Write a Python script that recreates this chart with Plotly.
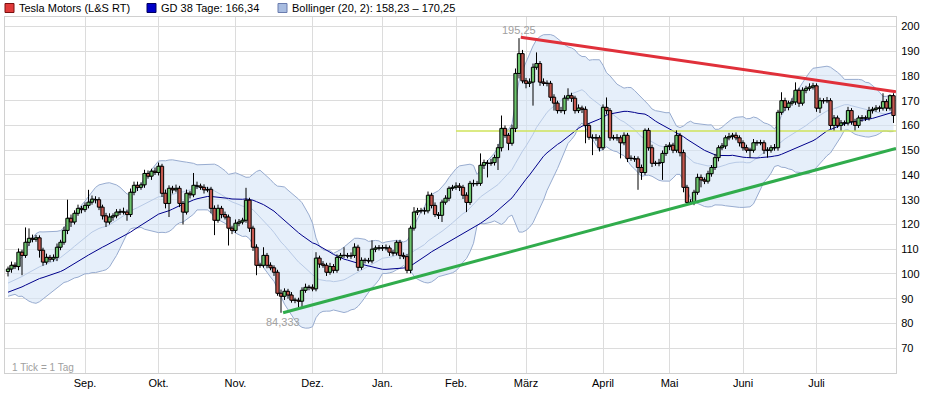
import pandas as pd
import plotly.graph_objects as go

# ---------------- data (trading-day index 0..253, Aug 2013 - Jul 2014) ----------------
close = [
    102.0, 103.5, 103.0, 108.8, 107.5, 112.8, 114.4, 114.0, 114.6, 109.6,
    104.8, 106.7, 106.0, 106.7, 110.8, 112.8, 117.6, 122.5, 121.0, 124.5,
    126.5, 126.0, 127.7, 129.0, 130.2, 130.0, 127.0, 123.5, 121.0, 123.0,
    123.5, 125.0, 125.3, 125.0, 124.0, 133.0, 135.8, 135.0, 136.0, 140.6,
    139.5, 141.5, 141.0, 143.5, 132.6, 128.5, 134.6, 134.0, 134.6, 128.5,
    125.0, 132.6, 132.0, 135.8, 135.5, 135.0, 134.0, 134.2, 126.5, 121.7,
    126.5, 124.0, 123.0, 118.5, 117.6, 120.5, 121.0, 121.7, 129.8, 118.5,
    110.8, 103.5, 103.5, 107.5, 103.5, 102.5, 100.7, 92.2, 91.0, 93.0,
    91.5, 89.4, 89.4, 89.0, 93.4, 94.6, 94.6, 94.0, 106.4, 104.0,
    103.5, 100.7, 103.0, 101.5, 106.7, 107.5, 107.5, 107.3, 107.5, 110.8,
    102.7, 105.5, 105.5, 105.3, 110.0, 110.5, 110.5, 110.7, 110.5, 108.8,
    108.5, 112.8, 107.5, 107.0, 101.5, 118.5, 125.0, 125.5, 125.7, 125.5,
    131.8, 127.7, 124.0, 123.7, 129.0, 130.6, 134.6, 135.0, 135.5, 135.0,
    131.8, 128.9, 136.6, 136.5, 136.6, 143.9, 145.0, 144.7, 145.0, 147.0,
    151.0, 158.8, 156.0, 152.8, 158.8, 181.0, 189.0, 178.0, 177.0, 177.5,
    183.5, 185.0, 177.5, 177.0, 177.0, 171.4, 169.0, 166.0, 166.0, 171.0,
    172.0, 171.0, 166.0, 167.0, 166.5, 160.0, 155.2, 155.0, 155.0, 151.0,
    167.3, 166.0, 155.0, 155.0, 155.0, 153.0, 156.0, 146.7, 146.7, 146.5,
    143.0, 141.0, 158.0, 151.0, 144.7, 144.7, 145.0, 148.7, 151.5, 152.0,
    150.0, 156.0, 149.0, 135.0, 128.9, 129.0, 133.0, 139.0, 138.0, 137.5,
    140.5, 143.0, 147.0, 151.0, 151.7, 155.0, 155.5, 156.0, 155.0, 153.0,
    151.0, 150.0, 150.0, 153.0, 153.0, 153.0, 150.0, 150.0, 151.0, 151.0,
    165.3, 170.0, 167.3, 169.0, 169.5, 174.2, 169.0, 174.2, 175.0, 175.5,
    176.0, 167.0, 170.0, 170.0, 170.0, 160.0, 163.0, 160.0, 161.0, 161.0,
    166.0, 161.5, 160.0, 163.0, 163.0, 163.0, 166.0, 166.5, 167.0, 167.0,
    169.6, 167.0, 172.0, 164.0,
]
wick_up = [
    1.0, 1.5, 1.2, 1.5, 1.0, 6.0, 4.0, 1.5, 1.2, 1.0,
    1.0, 1.5, 1.0, 1.2, 1.5, 1.0, 1.5, 7.5, 1.5, 1.2,
    1.5, 1.0, 1.2, 5.0, 1.5, 1.2, 1.0, 1.0, 1.2, 1.5,
    1.0, 1.2, 1.0, 1.5, 1.0, 1.5, 1.5, 1.5, 1.0, 1.5,
    1.2, 1.0, 1.5, 1.5, 1.0, 1.5, 1.2, 1.0, 1.5, 1.0,
    1.0, 1.5, 1.0, 5.0, 1.5, 1.0, 1.2, 1.0, 1.0, 1.2,
    1.5, 1.0, 1.2, 1.0, 1.0, 1.5, 1.2, 1.0, 5.0, 1.0,
    1.0, 1.2, 1.0, 3.3, 1.0, 1.2, 1.0, 1.0, 1.5, 1.2,
    1.0, 1.2, 1.0, 1.0, 1.2, 1.5, 1.0, 1.2, 2.4, 1.0,
    1.2, 1.0, 1.5, 1.0, 1.2, 1.0, 3.3, 1.0, 1.2, 1.6,
    1.0, 1.2, 1.0, 1.0, 3.6, 1.0, 1.2, 1.0, 1.2, 1.0,
    1.0, 0.8, 1.0, 1.2, 1.0, 1.0, 2.0, 1.2, 1.0, 1.2,
    1.5, 1.0, 1.2, 1.0, 1.0, 1.2, 0.8, 1.0, 1.5, 1.2,
    1.0, 1.2, 1.0, 1.5, 1.0, 4.8, 1.2, 1.0, 1.5, 1.2,
    1.5, 5.2, 1.2, 1.0, 1.5, 2.0, 6.25, 1.5, 1.2, 1.5,
    1.5, 4.5, 1.0, 1.5, 1.2, 1.0, 1.2, 1.0, 1.5, 1.2,
    3.0, 1.2, 1.0, 1.5, 1.0, 1.2, 1.0, 1.2, 1.5, 1.0,
    1.2, 4.0, 1.0, 1.2, 1.5, 1.0, 1.2, 1.0, 1.2, 1.0,
    1.0, 1.2, 0.8, 1.0, 1.2, 1.0, 1.5, 1.2, 1.0, 1.2,
    1.0, 2.0, 1.0, 1.2, 1.0, 1.2, 1.0, 1.5, 1.2, 1.0,
    1.2, 1.0, 1.5, 1.0, 1.2, 1.0, 1.5, 1.0, 1.2, 1.0,
    1.0, 1.2, 1.0, 1.5, 1.0, 1.2, 1.0, 1.2, 1.0, 1.5,
    1.0, 3.4, 1.2, 1.0, 1.5, 3.2, 1.0, 1.2, 1.0, 1.5,
    1.2, 1.0, 1.2, 1.0, 1.5, 1.0, 1.2, 1.0, 1.2, 1.0,
    1.5, 1.0, 1.2, 1.0, 1.2, 1.0, 1.5, 1.0, 1.2, 1.0,
    3.4, 1.0, 0.5, 1.0,
]
wick_dn = [
    2.0, 1.5, 1.0, 1.5, 8.0, 1.0, 1.5, 1.2, 1.0, 3.0,
    1.5, 1.0, 1.2, 1.0, 1.5, 1.2, 1.0, 1.5, 2.0, 1.0,
    1.0, 1.5, 1.0, 1.2, 1.0, 1.5, 1.2, 1.5, 2.0, 1.0,
    1.5, 1.0, 1.2, 1.0, 2.5, 1.0, 1.2, 1.5, 1.0, 1.2,
    1.0, 1.5, 1.0, 1.2, 1.5, 2.0, 5.5, 1.5, 1.0, 1.5,
    5.0, 1.0, 1.5, 1.0, 1.2, 1.0, 1.5, 1.0, 2.0, 6.0,
    1.0, 1.5, 1.0, 7.0, 1.5, 1.0, 1.2, 1.0, 1.0, 1.5,
    1.5, 4.0, 1.0, 1.0, 1.2, 1.0, 1.5, 1.0, 6.67, 1.5,
    1.5, 1.0, 1.2, 2.5, 2.3, 1.0, 1.2, 1.0, 1.0, 1.5,
    1.0, 1.5, 1.0, 1.2, 1.0, 1.2, 1.0, 1.0, 1.2, 1.0,
    1.5, 1.0, 1.2, 1.0, 1.0, 1.2, 1.0, 1.2, 1.0, 1.5,
    1.2, 1.0, 1.5, 1.0, 1.2, 1.2, 1.0, 1.2, 1.0, 1.5,
    1.0, 1.2, 1.0, 1.5, 2.7, 1.0, 1.2, 1.0, 1.0, 1.5,
    1.5, 3.9, 1.0, 1.2, 1.0, 1.0, 1.5, 5.7, 1.0, 1.2,
    5.0, 1.5, 1.0, 2.8, 1.0, 1.5, 2.0, 1.0, 2.0, 1.5,
    9.5, 1.0, 1.5, 1.0, 1.2, 1.5, 3.0, 1.2, 1.0, 1.5,
    1.0, 1.5, 1.2, 1.0, 1.5, 7.2, 1.0, 7.0, 1.2, 1.5,
    1.0, 1.5, 1.2, 1.0, 1.2, 6.3, 1.0, 1.5, 1.0, 1.2,
    9.0, 3.0, 1.0, 1.2, 1.5, 1.0, 1.2, 7.0, 1.0, 1.5,
    1.2, 1.0, 1.5, 2.0, 0.4, 1.0, 1.2, 1.0, 3.0, 1.2,
    1.0, 1.2, 1.0, 1.5, 1.0, 1.2, 1.0, 1.2, 1.0, 1.5,
    1.2, 1.0, 3.0, 1.0, 1.2, 1.0, 1.5, 3.0, 1.0, 1.2,
    1.2, 1.0, 1.5, 1.2, 1.0, 1.2, 1.5, 1.0, 1.2, 1.0,
    1.0, 1.5, 2.0, 1.2, 1.0, 1.5, 2.0, 1.0, 2.0, 1.2,
    1.0, 1.2, 2.0, 1.0, 1.5, 1.2, 1.0, 1.2, 1.0, 1.5,
    1.0, 1.2, 1.0, 3.0,
]
# closes of the days before the visible window (feed the indicators)
pre_close = [
    84.5, 85.5, 86.0, 85.0, 86.5, 87.5, 88.0, 87.0, 88.5, 89.0,
    90.0, 89.5, 90.5, 91.0, 90.0, 91.5, 92.0, 91.5,
    91.0, 92.0, 94.0, 93.0, 96.0, 97.5, 99.0, 98.0, 96.0, 94.0,
    95.0, 96.5, 95.0, 97.0, 96.0, 97.5, 98.0, 99.0, 100.0,
]

month_pos = [22, 43, 65, 87, 107, 128, 148, 170, 189, 210, 231]
month_labels = ["Sep.", "Okt.", "Nov.", "Dez.", "Jan.", "Feb.", "März", "April", "Mai", "Juni", "Juli"]
y_ticks = list(range(70, 201, 10))

high_mark = (146, 195.25, "195,25")
low_mark = (78, 84.333, "84,333")
resistance_x = [146.5, 253.7]
resistance_y = [195.6, 173.6]
support_x = [78.6, 253.7]
support_y = [84.33, 150.7]
level_x = [128, 253.7]
level_y = [157.8, 157.8]

legend_items = [
    ("Tesla Motors (L&S RT)", "#e03a3a", "#7a1010"),
    ("GD 38 Tage: 166,34", "#0000c8", "#000060"),
    ("Bollinger (20, 2): 158,23 \u2013 170,25", "#a8bce0", "#6a7cae"),
]

UP_COLOR = "#6cc46c"
DOWN_COLOR = "#c4574e"
HALF_BODY = 0.47  # half candle width in trading days

# ---------------- derived series ----------------
N = len(close)
x = list(range(N))
opens = [101.0] + close[:-1]
high = [max(o, c) + u for o, c, u in zip(opens, close, wick_up)]
low = [min(o, c) - d for o, c, d in zip(opens, close, wick_dn)]

wick_x, wick_y = [], []
up_x, up_y, dn_x, dn_y = [], [], [], []
for i in range(N):
    wick_x += [i, i, None]
    wick_y += [low[i], high[i], None]
    b0, b1 = min(opens[i], close[i]), max(opens[i], close[i])
    bx = [i - HALF_BODY, i + HALF_BODY, i + HALF_BODY, i - HALF_BODY, i - HALF_BODY, None]
    byy = [b0, b0, b1, b1, b0, None]
    if close[i] >= opens[i]:
        up_x += bx
        up_y += byy
    else:
        dn_x += bx
        dn_y += byy

full = pd.Series(pre_close + close)
sma20 = full.rolling(20).mean()
sd20 = full.rolling(20).std(ddof=0)
boll_up = (sma20 + 2 * sd20).iloc[-N:].tolist()
boll_lo = (sma20 - 2 * sd20).iloc[-N:].tolist()
boll_mid = sma20.iloc[-N:].tolist()
ma38 = full.rolling(38).mean().iloc[-N:].tolist()

# ---------------- figure ----------------
W, H = 931, 393
L, R, T, B = 5, 35, 17, 20
PW, PH = W - L - R, H - T - B


def px(xp):
    return (xp - L) / PW


def py(yp):
    return (H - B - yp) / PH


fig = go.Figure()

fig.add_trace(go.Scatter(x=x, y=boll_lo, mode="lines",
                         line=dict(color="#98acd0", width=1), hoverinfo="skip"))
fig.add_trace(go.Scatter(x=x, y=boll_up, mode="lines", fill="tonexty",
                         fillcolor="rgba(214,228,246,0.6)",
                         line=dict(color="#98acd0", width=1), hoverinfo="skip"))
fig.add_trace(go.Scatter(x=x, y=boll_mid, mode="lines",
                         line=dict(color="#b8cae6", width=1), hoverinfo="skip"))
fig.add_trace(go.Scatter(x=x, y=ma38, mode="lines",
                         line=dict(color="#00008b", width=1), hoverinfo="skip"))
fig.add_trace(go.Scatter(x=level_x, y=level_y, mode="lines",
                         line=dict(color="#cfe35a", width=1.5), hoverinfo="skip"))
fig.add_trace(go.Scatter(x=x, y=close, mode="lines", line_shape="hv",
                         line=dict(color="#000000", width=1), hoverinfo="skip"))
fig.add_trace(go.Scatter(x=wick_x, y=wick_y, mode="lines",
                         line=dict(color="#000000", width=1), hoverinfo="skip"))
fig.add_trace(go.Scatter(x=up_x, y=up_y, mode="lines", fill="toself", fillcolor=UP_COLOR,
                         line=dict(color="#000000", width=1), hoverinfo="skip"))
fig.add_trace(go.Scatter(x=dn_x, y=dn_y, mode="lines", fill="toself", fillcolor=DOWN_COLOR,
                         line=dict(color="#000000", width=1), hoverinfo="skip"))
fig.add_trace(go.Scatter(x=resistance_x, y=resistance_y, mode="lines",
                         line=dict(color="#e0303a", width=3), hoverinfo="skip"))
fig.add_trace(go.Scatter(x=support_x, y=support_y, mode="lines",
                         line=dict(color="#30ac4c", width=3), hoverinfo="skip"))

annotations = [
    dict(x=high_mark[0], y=high_mark[1], xref="x", yref="y", text=high_mark[2],
         showarrow=False, xanchor="center", yanchor="bottom",
         font=dict(size=11, color="#a0a0a0")),
    dict(x=low_mark[0] + 0.5, y=low_mark[1], xref="x", yref="y", text=low_mark[2],
         showarrow=False, xanchor="center", yanchor="top", yshift=-1,
         font=dict(size=11, color="#a0a0a0")),
    dict(x=px(10), y=py(367), xref="paper", yref="paper", text="1 Tick = 1 Tag",
         showarrow=False, xanchor="left", yanchor="middle",
         font=dict(size=10, color="#a0a0a0")),
]
shapes = []
sq_x = [5, 147, 278]
txt_x = [17, 159, 290]
for (label, fc, lc), sx, tx in zip(legend_items, sq_x, txt_x):
    shapes.append(dict(type="rect", xref="paper", yref="paper",
                       x0=px(sx), x1=px(sx + 9), y0=py(12.5), y1=py(3.5),
                       fillcolor=fc, line=dict(color=lc, width=1)))
    annotations.append(dict(x=px(tx), y=py(8), xref="paper", yref="paper", text=label,
                            showarrow=False, xanchor="left", yanchor="middle",
                            font=dict(size=11, color="#000000")))

fig.update_layout(
    width=W, height=H,
    margin=dict(l=L, r=R, t=T, b=B),
    paper_bgcolor="white", plot_bgcolor="white",
    showlegend=False,
    font=dict(family="Liberation Sans, Arial, sans-serif", size=11, color="#000000"),
    annotations=annotations,
    shapes=shapes,
    xaxis=dict(
        range=[-0.857, 253.71], tickmode="array", tickvals=month_pos, ticktext=month_labels,
        showgrid=True, gridcolor="#dcdcdc", gridwidth=1, zeroline=False,
        showline=True, linecolor="#d0d0d0", mirror=True, ticks="",
        tickfont=dict(size=11),
    ),
    yaxis=dict(
        range=[60, 203.8], side="right", tickmode="array", tickvals=y_ticks,
        showgrid=True, gridcolor="#dcdcdc", gridwidth=1, zeroline=False,
        showline=True, linecolor="#d0d0d0", mirror=True, ticks="",
        ticklabelstandoff=2, tickfont=dict(size=11),
    ),
)

fig.write_html("out.html", config={"displayModeBar": False},
               post_script="document.body.style.margin='0';document.body.style.overflow='hidden';")
